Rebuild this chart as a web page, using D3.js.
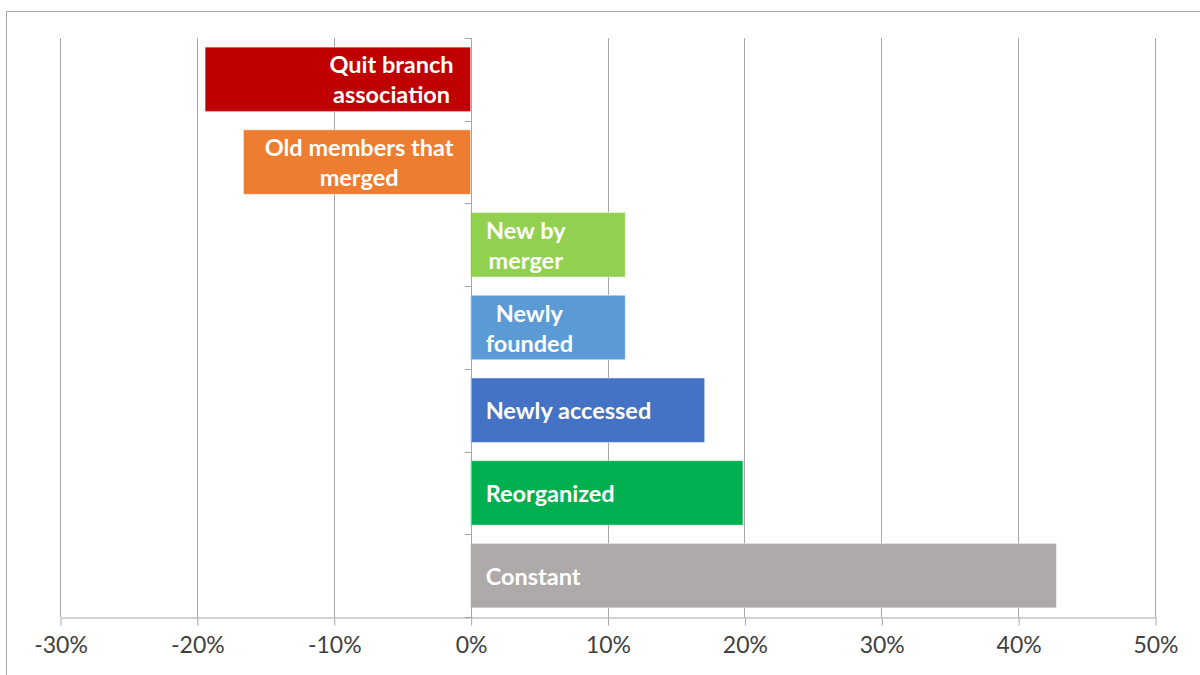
<!DOCTYPE html>
<html>
<head>
<meta charset="utf-8">
<script src="https://cdn.jsdelivr.net/npm/d3@7"></script>
<style>
  html, body { margin: 0; padding: 0; background: #fff; }
  svg { display: block; }
</style>
</head>
<body>
<svg id="chart" width="1200" height="675"></svg>
<script>
// Membership change by type (share of branch associations)
const categories = [
  "Quit branch association",
  "Old members that merged",
  "New by merger",
  "Newly founded",
  "Newly accessed",
  "Reorganized",
  "Constant"
];
const values = [-0.194, -0.166, 0.113, 0.113, 0.171, 0.199, 0.428];
const labelLines = [
  ["Quit branch", "association"],
  ["Old members that", "merged"],
  ["New by", "merger"],
  ["Newly", "founded"],
  ["Newly accessed"],
  ["Reorganized"],
  ["Constant"]
];
const colors = ["#C00000", "#ED7D31", "#92D050", "#5B9BD5", "#4472C4", "#00B050", "#AEAAAA"];
const tickValues = [-0.3, -0.2, -0.1, 0, 0.1, 0.2, 0.3, 0.4, 0.5];

const svg = d3.select("#chart");
const margin = { top: 38, left: 60, right: 45, bottom: 58 };
const W = 1200;
const plotBottom = 617;

// outer chart frame (top and left edges visible)
svg.append("path")
  .attr("d", "M6.5,675 V11.5 H1200")
  .attr("fill", "none")
  .attr("stroke", "#a6a6a6")
  .attr("stroke-width", 1);

const x = d3.scaleLinear()
  .domain([-0.3, 0.5])
  .range([margin.left, W - margin.right]);

const y = d3.scaleBand()
  .domain(categories)
  .range([margin.top, plotBottom])
  .paddingInner(0.22)
  .paddingOuter(0.11);

// vertical gridlines
svg.append("g")
  .selectAll("line")
  .data(tickValues)
  .join("line")
  .attr("x1", d => Math.round(x(d)) + 0.5)
  .attr("x2", d => Math.round(x(d)) + 0.5)
  .attr("y1", margin.top)
  .attr("y2", plotBottom)
  .attr("stroke", "#a6a6a6")
  .attr("stroke-width", 1);

// bottom value axis, percent labels with a plain hyphen for negatives
const pct = d => `${Math.round(d * 100)}%`;
const xAxis = d3.axisBottom(x)
  .tickValues(tickValues)
  .tickFormat(pct)
  .tickSizeInner(8)
  .tickSizeOuter(0)
  .tickPadding(14);

const gx = svg.append("g")
  .attr("transform", `translate(0.5,${plotBottom + 0.5})`)
  .call(xAxis);
gx.select(".domain").attr("stroke", "#a6a6a6");
gx.selectAll(".tick line").attr("stroke", "#a6a6a6");
gx.selectAll(".tick text")
  .attr("fill", "#404040")
  .attr("dy", "0.6em")
  .style("font-family", "Lato, 'Open Sans', sans-serif")
  .style("font-size", "23px");

// bars
svg.append("g")
  .selectAll("rect")
  .data(categories)
  .join("rect")
  .attr("x", (d, i) => x(Math.min(0, values[i])))
  .attr("y", d => y(d))
  .attr("width", (d, i) => Math.abs(x(values[i]) - x(0)))
  .attr("height", y.bandwidth())
  .attr("fill", (d, i) => colors[i])
  .attr("stroke", "#ffffff")
  .attr("stroke-opacity", 0.5)
  .attr("stroke-width", 1);

// category axis at zero with ticks on band boundaries
const x0 = Math.round(x(0)) + 0.5;
svg.append("line")
  .attr("x1", x0).attr("x2", x0)
  .attr("y1", margin.top).attr("y2", plotBottom)
  .attr("stroke", "#a6a6a6");
svg.append("g")
  .selectAll("line")
  .data(categories.map(c => y(c) - y.step() * y.paddingInner() / 2).concat([plotBottom]))
  .join("line")
  .attr("x1", x0 - 7).attr("x2", x0)
  .attr("y1", d => Math.round(d) + 0.5)
  .attr("y2", d => Math.round(d) + 0.5)
  .attr("stroke", "#a6a6a6");

// in-bar labels
const lineH = 30;
const labels = svg.append("g")
  .style("font-family", "Lato, 'Open Sans', sans-serif")
  .style("font-size", "23.5px")
  .style("font-weight", "bold")
  .attr("fill", "#ffffff");

categories.forEach((c, i) => {
  const lines = labelLines[i];
  const cy = y(c) + y.bandwidth() / 2;
  const t = labels.append("text")
    .attr("text-anchor", "middle")
    .attr("dominant-baseline", "central");
  lines.forEach((ln, j) => {
    t.append("tspan")
      .attr("x", 0)
      .attr("y", cy + (j - (lines.length - 1) / 2) * lineH)
      .text(ln);
  });
  // measure widest line and position block inside the bar
  const bw = t.node().getBBox().width;
  const cx = values[i] < 0 ? x(0) - 17 - bw / 2 : x(0) + 15 + bw / 2;
  t.selectAll("tspan").attr("x", cx);
});
</script>
</body>
</html>
